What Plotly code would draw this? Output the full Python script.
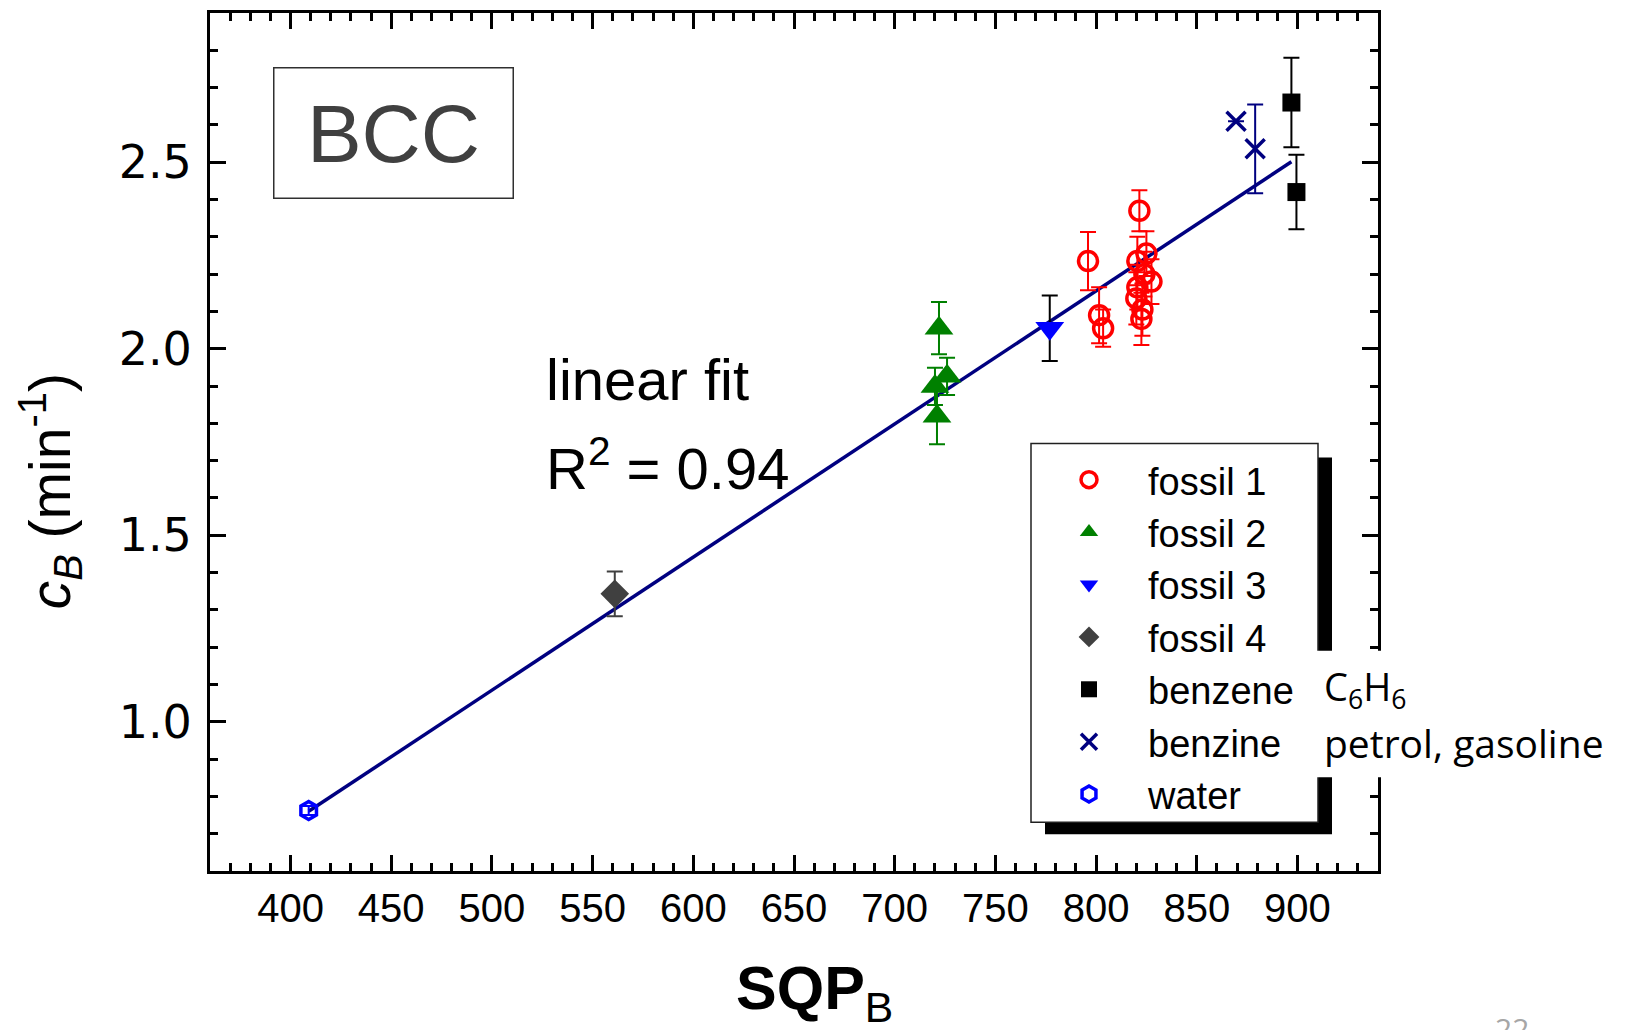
import plotly.graph_objects as go

# ---------------- data ----------------
f1_x = [796, 801.5, 803.5, 821.5, 825, 820.5, 827.5, 820.5, 820, 823, 822.5, 824]
f1_y = [2.235, 2.09, 2.055, 2.37, 2.255, 2.235, 2.18, 2.165, 2.135, 2.105, 2.08, 2.20]
f1_e = [0.078, 0.075, 0.05, 0.055, 0.06, 0.065, 0.06, 0.06, 0.07, 0.07, 0.07, 0.06]

f2_x = [722, 726, 720, 721]
f2_y = [2.055, 1.926, 1.899, 1.819]
f2_e = [0.07, 0.05, 0.05, 0.075]

f3_x = [777]
f3_y = [2.055]
f3_e = [0.088]

f4_x = [561]
f4_y = [1.343]
f4_e = [0.06]

benzene_x = [897, 899.5]
benzene_y = [2.66, 2.42]
benzene_e = [0.12, 0.10]

benzine_x = [869.5, 879]
benzine_y = [2.61, 2.536]
benzine_e = [0.0, 0.119]

water_x = [409]
water_y = [0.762]
water_e = [0.012]

fit_slope = 0.003568
fit_intercept = -0.6993
fit_x = [409, 897]
fit_y = [fit_slope * v + fit_intercept for v in fit_x]

x_range = [360, 940]
y_range = [0.6, 2.9]

# ---------------- figure ----------------
fig = go.Figure()

fig.add_trace(go.Scatter(x=fit_x, y=fit_y, mode="lines",
                         line=dict(color="#000080", width=3.5), showlegend=False))


def add_series(name, xs, ys, es, symbol, color, size, ecolor, line_w=0, line_c=None):
    fig.add_trace(go.Scatter(
        x=xs, y=ys, mode="markers", name=name,
        marker=dict(symbol=symbol, size=size, color=color,
                    line=dict(width=line_w, color=line_c or color)),
        error_y=dict(type="data", array=es, visible=True, color=ecolor,
                     thickness=2, width=8),
    ))


add_series("fossil 1", f1_x, f1_y, f1_e, "circle-open", "#ff0000", 19, "#ff0000", 3.5)
add_series("fossil 2", f2_x, f2_y, f2_e, "triangle-up", "#008000", 25, "#008000")
add_series("fossil 3", f3_x, f3_y, f3_e, "triangle-down", "#0000ff", 25, "#000000")
add_series("fossil 4", f4_x, f4_y, f4_e, "diamond", "#404040", 22, "#404040")
add_series("benzene", benzene_x, benzene_y, benzene_e, "square", "#000000", 18, "#000000")
add_series("benzine", benzine_x, benzine_y, benzine_e, "x-thin", "#000080", 19, "#000080", 3.5)
add_series("water", water_x, water_y, water_e, "hexagon-open", "#0000ff", 18, "#0000ff", 3.5)

# plot-area geometry in screenshot pixels (page body has an 8 px margin)
OFF = 8
L, R, T, B = 210, 1378, 10, 871
W, H = R - L, B - T


def px(xp):
    return (xp - L) / W


def py(yp):
    return (B - yp) / H


axis_common = dict(
    showline=True, linewidth=3, linecolor="black", mirror="ticks",
    ticks="inside", ticklen=16, tickwidth=3, tickcolor="black",
    showgrid=False, zeroline=False,
)

fig.update_xaxes(
    range=x_range, dtick=50, tick0=400,
    tickfont=dict(family="Liberation Sans Narrow, Liberation Sans, Arial", size=40, color="black"),
    ticklabelstandoff=0,
    minor=dict(dtick=10, ticks="inside", ticklen=8, tickwidth=2.5, tickcolor="black"),
    **axis_common,
)
fig.update_yaxes(
    range=y_range, dtick=0.5, tick0=0, tickformat=".1f",
    tickfont=dict(family="DejaVu Sans, Liberation Sans", size=46, color="black"),
    ticklabelstandoff=6,
    minor=dict(dtick=0.1, ticks="inside", ticklen=8, tickwidth=2.5, tickcolor="black"),
    **axis_common,
)

shapes = [
    # legend shadow
    dict(type="rect", xref="paper", yref="paper", layer="above",
         x0=px(1045), x1=px(1332), y0=py(834), y1=py(456),
         fillcolor="black", line=dict(width=0)),
    # legend box
    dict(type="rect", xref="paper", yref="paper", layer="above",
         x0=px(1031), x1=px(1318), y0=py(822), y1=py(442),
         fillcolor="white", line=dict(width=1.5, color="#202020")),
    # white patch behind the side notes
    dict(type="rect", xref="paper", yref="paper", layer="above",
         x0=px(1306), x1=px(1650), y0=py(777), y1=py(650),
         fillcolor="white", line=dict(width=0)),
]

annotations = [
    dict(text="BCC", xref="paper", yref="paper", x=px(393), y=py(130),
         xanchor="center", yanchor="middle", showarrow=False,
         width=238, height=129, borderpad=0, borderwidth=1.5, bordercolor="#303030",
         font=dict(family="Liberation Sans, Arial", size=82, color="#404040")),
    dict(text="linear fit", xref="paper", yref="paper", x=px(544), y=py(378),
         xanchor="left", yanchor="middle", showarrow=False,
         font=dict(family="Liberation Sans, Arial", size=58, color="black")),
    dict(text="R<sup>2</sup> = 0.94", xref="paper", yref="paper", x=px(544), y=py(463),
         xanchor="left", yanchor="middle", showarrow=False,
         font=dict(family="Liberation Sans, Arial", size=58, color="black")),
    dict(text="C<sub>6</sub>H<sub>6</sub>", xref="paper", yref="paper", x=px(1322), y=py(688),
         xanchor="left", yanchor="middle", showarrow=False,
         font=dict(family="Open Sans, Noto Sans", size=38, color="black")),
    dict(text="petrol, gasoline", xref="paper", yref="paper", x=px(1322), y=py(742),
         xanchor="left", yanchor="middle", showarrow=False,
         font=dict(family="Open Sans, Noto Sans", size=39, color="black")),
    # axis titles
    dict(text="<b>SQP</b><sub>B</sub>", xref="paper", yref="paper", x=px(814), y=py(952),
         xanchor="center", yanchor="top", showarrow=False,
         font=dict(family="Liberation Sans Narrow, Liberation Sans, Arial", size=61, color="black")),
    dict(text="<i>c</i><sub><i>B</i></sub> (min<sup>-1</sup>)", xref="paper", yref="paper",
         x=px(50), y=py(490), textangle=-90, xanchor="center", yanchor="middle",
         showarrow=False,
         font=dict(family="Liberation Sans, Arial", size=57, color="black")),
    # slide page number
    dict(text="22", xref="paper", yref="paper", x=px(1512), y=py(1006),
         xanchor="center", yanchor="top", showarrow=False,
         font=dict(family="Open Sans, Noto Sans", size=30, color="#a6a6a6")),
]

FIG_W, FIG_H = 1625, 1030
fig.update_layout(
    width=FIG_W, height=FIG_H,
    margin=dict(l=L - OFF, r=FIG_W - (R - OFF), t=T - OFF, b=FIG_H - (B - OFF)),
    paper_bgcolor="white", plot_bgcolor="white",
    shapes=shapes, annotations=annotations,
    legend=dict(
        x=px(1030), y=py(447), xanchor="left", yanchor="top",
        bgcolor="rgba(0,0,0,0)", borderwidth=0,
        itemwidth=108, tracegroupgap=0,
        font=dict(family="Liberation Sans, Arial", size=38, color="black"),
    ),
    showlegend=True,
)

fig.write_html("out.html")
